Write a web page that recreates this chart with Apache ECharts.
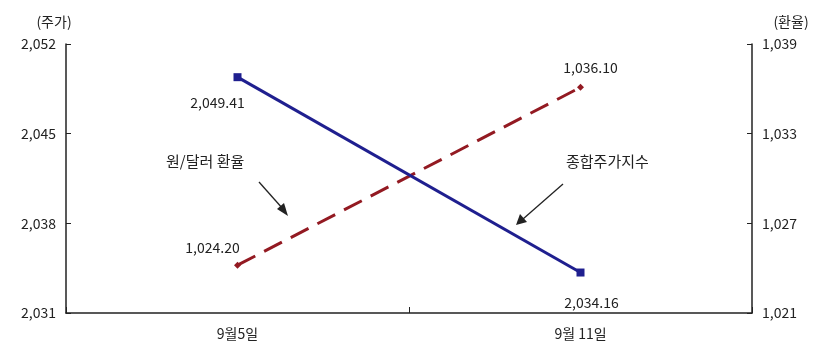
<!DOCTYPE html>
<html>
<head>
<meta charset="utf-8">
<script src="https://cdn.jsdelivr.net/npm/echarts@6/dist/echarts.min.js"></script>
<style>
  html, body { margin: 0; padding: 0; background: #fff; }
  #chart { width: 819px; height: 350px; }
</style>
</head>
<body>
<div id="chart"></div>
<script>
// Dates on the category axis
const categories = ['9월5일', '9월 11일'];
// KOSPI composite index (left axis)
const kospi = [2049.41, 2034.16];
// KRW/USD exchange rate (right axis)
const fxRate = [1024.20, 1036.10];
// Axis ranges and tick steps
const leftAxis = { min: 2031, max: 2052, interval: 7 };
const rightAxis = { min: 1021, max: 1039, interval: 6 };

const font = "'Noto Sans CJK KR', sans-serif";
const ink = '#222';
const fmt = v => v.toLocaleString('en-US');
const fmt2 = v => v.toLocaleString('en-US', { minimumFractionDigits: 2, maximumFractionDigits: 2 });

const chart = echarts.init(document.getElementById('chart'));

const axisCommon = {
  type: 'value',
  splitLine: { show: false },
  axisLine: { show: true, lineStyle: { color: '#222', width: 1.5 } },
  axisTick: { show: true, inside: true, length: 5, lineStyle: { color: '#222' } },
  axisLabel: { color: ink, fontSize: 14, fontFamily: font, margin: 10, formatter: fmt },
  nameTextStyle: { color: ink, fontSize: 14, fontFamily: font },
  nameGap: 15
};

chart.setOption({
  animation: false,
  grid: { left: 66, right: 67, top: 44, bottom: 37, containLabel: false },
  xAxis: {
    type: 'category',
    data: categories,
    boundaryGap: true,
    axisLine: { lineStyle: { color: '#222', width: 1.5 } },
    axisTick: { show: true, inside: true, length: 6, interval: 0, lineStyle: { color: '#222' } },
    axisLabel: { color: ink, fontSize: 14, fontFamily: font, margin: 14 }
  },
  yAxis: [
    Object.assign({}, axisCommon, {
      position: 'left', name: '(주가)',
      min: leftAxis.min, max: leftAxis.max, interval: leftAxis.interval,
      nameTextStyle: Object.assign({}, axisCommon.nameTextStyle, { align: 'center', padding: [0, 24, 0, 0] })
    }),
    Object.assign({}, axisCommon, {
      position: 'right', name: '(환율)',
      min: rightAxis.min, max: rightAxis.max, interval: rightAxis.interval,
      nameTextStyle: Object.assign({}, axisCommon.nameTextStyle, { align: 'center', padding: [0, 0, 0, 78] })
    })
  ],
  series: [
    {
      name: '종합주가지수',
      type: 'line',
      yAxisIndex: 0,
      data: kospi,
      symbol: 'rect',
      symbolSize: 8,
      lineStyle: { color: '#1f1f8f', width: 3 },
      itemStyle: { color: '#1f1f8f' },
      label: {
        show: true,
        color: ink, fontSize: 14, fontFamily: font,
        formatter: p => fmt2(p.value),
        position: 'bottom'
      },
      labelLayout: p => p.dataIndex === 0 ? { dx: -20, dy: 10 } : { dx: 11, dy: 14 },
      z: 3
    },
    {
      name: '원/달러 환율',
      type: 'line',
      yAxisIndex: 1,
      data: fxRate,
      symbol: 'diamond',
      symbolSize: 7,
      lineStyle: { color: '#931a22', width: 3, type: [20, 10] },
      itemStyle: { color: '#931a22' },
      label: {
        show: true,
        color: ink, fontSize: 14, fontFamily: font,
        formatter: p => fmt2(p.value),
        position: 'top'
      },
      labelLayout: p => p.dataIndex === 0 ? { dx: -25, dy: -2 } : { dx: 10, dy: -4 },
      z: 2
    }
  ],
  graphic: [
    { type: 'text', left: 166, top: 154, style: { text: '원/달러 환율', fill: ink, font: '15px ' + font } },
    { type: 'line', shape: { x1: 259, y1: 182, x2: 283, y2: 209 }, style: { stroke: '#222', lineWidth: 1.3 } },
    { type: 'polygon', shape: { points: [[288, 216], [277, 209], [284, 203]] }, style: { fill: '#222' } },
    { type: 'text', left: 566, top: 154, style: { text: '종합주가지수', fill: ink, font: '15px ' + font } },
    { type: 'line', shape: { x1: 563, y1: 184, x2: 523, y2: 219 }, style: { stroke: '#222', lineWidth: 1.3 } },
    { type: 'polygon', shape: { points: [[516, 225], [520, 214], [527, 222]] }, style: { fill: '#222' } }
  ]
});
</script>
</body>
</html>
